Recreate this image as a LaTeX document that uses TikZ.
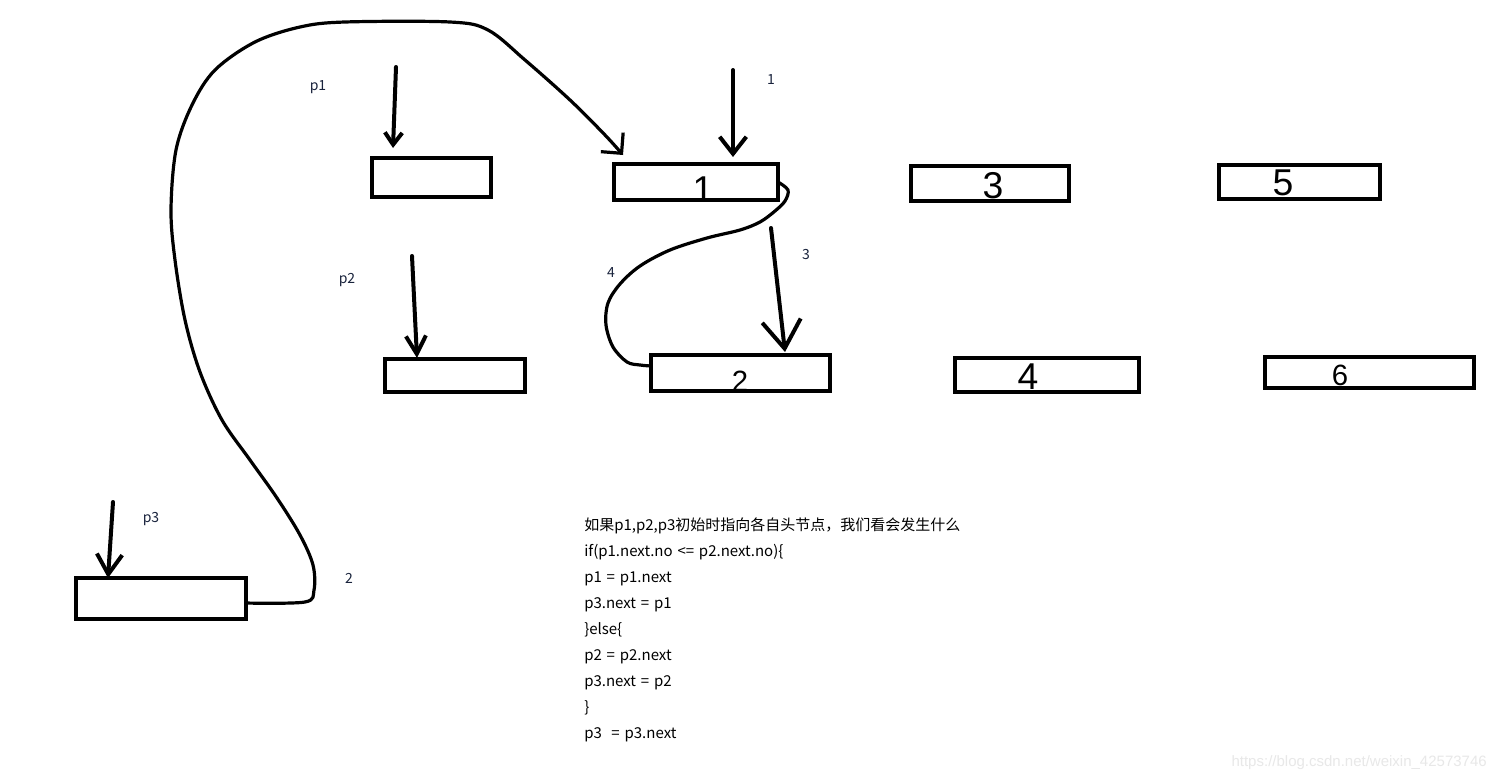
\documentclass[tikz,border=0pt]{standalone}
\usepackage{fontspec}
\newfontfamily\cjk{Noto Sans CJK SC}
\newfontfamily\lsans{Liberation Sans}
\usetikzlibrary{arrows.meta,calc}
\newlength\pxl \setlength\pxl{0.75pt}
\definecolor{labcol}{RGB}{25,35,60}
\definecolor{wmcol}{RGB}{232,232,232}
\newcommand\codefont{\cjk\fontsize{11.25pt}{19.5pt}\selectfont\spaceskip=0.32em plus 0.1em\relax}
\tikzset{
  box/.style={draw, line width=3.2pt, inner sep=0pt, outer sep=0pt},
  hand/.style={line width=2.4pt, line cap=round, line join=round},
  ptr/.style={line width=3pt, line cap=round, line join=round},
  lab/.style={font=\cjk\fontsize{10.5pt}{12pt}\selectfont, text=labcol, inner sep=0pt},
  digit/.style={font=\lsans\fontsize{28pt}{30pt}\selectfont, inner sep=0pt},
  sdigit/.style={font=\lsans\fontsize{22pt}{24pt}\selectfont, inner sep=0pt},
}
\begin{document}
\begin{tikzpicture}[x=0.75pt,y=-0.75pt]
\fill[white] (0,0) rectangle (1497,782);
\useasboundingbox (0,0) rectangle (1497,782);

% boxes
\node[box, minimum width=119\pxl, minimum height=39\pxl] (A) at (431.5,177.5) {};
\node[box, minimum width=164\pxl, minimum height=36\pxl] (B) at (696,182) {};
\node[box, minimum width=158\pxl, minimum height=35\pxl] (C) at (990,183.5) {};
\node[box, minimum width=161\pxl, minimum height=34\pxl] (D) at (1299.5,182) {};
\node[box, minimum width=140\pxl, minimum height=33\pxl] (E) at (455,375.5) {};
\node[box, minimum width=179\pxl, minimum height=36\pxl] (F) at (740.5,373) {};
\node[box, minimum width=184\pxl, minimum height=34\pxl] (G) at (1047,375) {};
\node[box, minimum width=209\pxl, minimum height=31\pxl] (H) at (1369.5,372.5) {};
\node[box, minimum width=170\pxl, minimum height=41\pxl] (I) at (161,598.5) {};

% digits in boxes
\node[digit] (d1) at (703,190) {1};
\node[digit] (d3) at (993,186) {3};
\node[digit] (d5) at (1283,183) {5};
\node[sdigit] (d2) at (740,381) {2};
\node[digit] (d4) at (1028,377) {4};
\node[sdigit] (d6) at (1340,375) {6};

% labels
\node[lab] (lp1) at (318,87) {p1};
\node[lab] (l1) at (771,80) {1};
\node[lab] (lp2) at (347,280) {p2};
\node[lab] (l3) at (806,255) {3};
\node[lab] (l4) at (611,273) {4};
\node[lab] (lp3) at (151,519) {p3};
\node[lab] (l2) at (349,578) {2};

% pointer arrows
\coordinate (p1s) at (396,67);
\coordinate (bs) at (733,70);
\coordinate (p2s) at (412,256);
\coordinate (p3s) at (113,502);
\coordinate (s3) at (771,228);
\draw[ptr, -{Straight Barb[length=9pt,width=13pt]}] (p1s) -- ($(A.north west)+(21,-10)$);
\draw[ptr, -{Straight Barb[length=12.75pt,width=20pt]}] (bs) -- ($(B.north west)+(119,-7)$);
\draw[ptr, -{Straight Barb[length=13.5pt,width=15pt]}] (p2s) -- ($(E.north west)+(32,-1)$);
\draw[ptr, -{Straight Barb[length=15pt,width=19pt]}] (p3s) -- ($(I.north west)+(32,0)$);
\draw[ptr, -{Straight Barb[length=21pt,width=29pt]}] (s3) -- ($(F.north west)+(134,-3)$);

% long curve from p3 box to box 1
\draw[hand, -{Straight Barb[length=11pt,width=22pt]}] plot[smooth, tension=0.55] coordinates {
  ([yshift=-3.4pt]I.east) (305,602) (314,590) (313,565) (300,535) (277,498) (250,460)
  (222,420) (200,372) (185,320) (175,260) (171,210) (176,150) (192,105) (215,70)
  (255,42) (300,27) (345,22) (450,22) (488,30) (525,60) (570,100) (605,135)
  ($(B.north west)+(9,-9)$)};

% curve 4 from box 1 to box 2
\draw[hand] plot[smooth, tension=0.55] coordinates {
  (B.east) (788,190) (785,201) (775,211) (760,222) (740,230) (707,238) (670,250)
  (640,266) (620,284) (608,303) (606,325) (613,347) (627,362) (640,365)
  ([yshift=5.25pt]F.west)};

% text block
\node[anchor=north west, inner sep=0pt, align=left, font=\codefont] (code) at (584,518) {%
如果p1,p2,p3初始时指向各自头节点，我们看会发生什么\\
if(p1.next.no <= p2.next.no)\{\\
p1 = p1.next\\
p3.next = p1\\
\}else\{\\
p2 = p2.next\\
p3.next = p2\\
\}\\
p3\ \ = p3.next};

% watermark
\node[anchor=east, inner sep=0pt, text=wmcol, font=\lsans\fontsize{11.25pt}{12pt}\selectfont] (wm) at (1487,763) {https://blog.csdn.net/weixin\_42573746};
\end{tikzpicture}
\end{document}
